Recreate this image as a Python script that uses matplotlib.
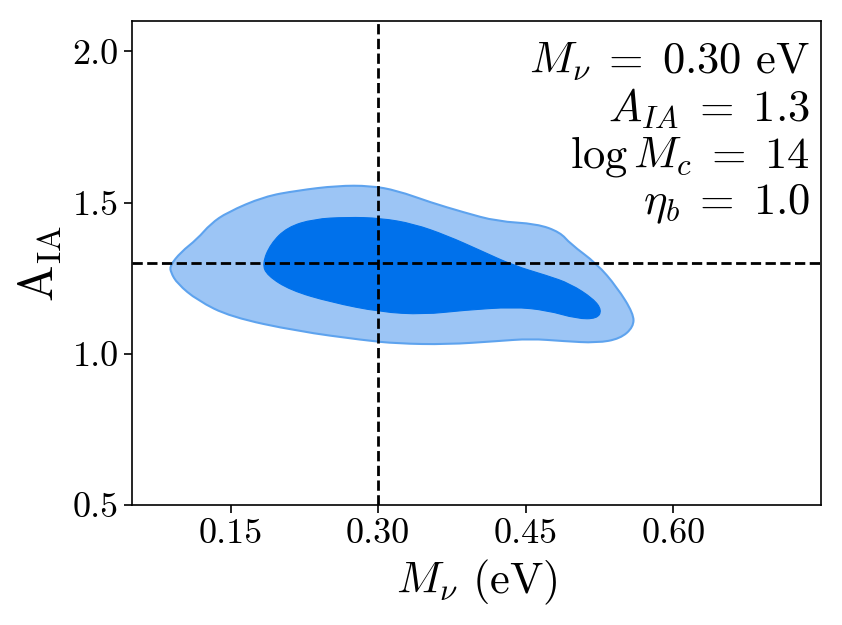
import matplotlib
matplotlib.use("Agg")
import matplotlib.pyplot as plt
import numpy as np
from matplotlib.path import Path
from matplotlib.patches import PathPatch
from matplotlib.ticker import FormatStrFormatter

# %% fonts (Computer Modern look)
plt.rcParams.update({
    "font.family": "serif",
    "font.serif": ["cmr10"],
    "mathtext.fontset": "cm",
    "axes.formatter.use_mathtext": True,
    "axes.unicode_minus": False,
})

# %% data: fiducial values and contour outlines (M_nu [eV], A_IA)
mnu_true = 0.30
aia_true = 1.3

outer_mnu = [0.0885, 0.0993, 0.1162, 0.1297, 0.1466, 0.1839, 0.2177, 0.2583,
             0.2922, 0.3192, 0.3531, 0.3869, 0.4208, 0.4614, 0.4850, 0.4952,
             0.5223, 0.5426, 0.5595, 0.5595, 0.5460, 0.5223, 0.4884, 0.4546,
             0.4208, 0.3700, 0.3192, 0.2854, 0.2177, 0.1500, 0.1162, 0.0959,
             0.0891]
outer_aia = [1.292, 1.336, 1.380, 1.430, 1.468, 1.520, 1.540, 1.556,
             1.556, 1.540, 1.501, 1.468, 1.438, 1.430, 1.402, 1.364,
             1.298, 1.221, 1.133, 1.089, 1.050, 1.036, 1.042, 1.050,
             1.042, 1.031, 1.034, 1.045, 1.075, 1.122, 1.177, 1.232,
             1.270]

inner_mnu = [0.1822, 0.1906, 0.2076, 0.2346, 0.2685, 0.3023, 0.3361, 0.3700,
             0.4038, 0.4377, 0.4715, 0.4952, 0.5189, 0.5273, 0.5223, 0.5020,
             0.4715, 0.4377, 0.3869, 0.3463, 0.3023, 0.2515, 0.2109, 0.1872]
inner_aia = [1.298, 1.364, 1.419, 1.446, 1.452, 1.449, 1.430, 1.391,
             1.342, 1.292, 1.259, 1.232, 1.182, 1.144, 1.116, 1.116,
             1.144, 1.155, 1.144, 1.130, 1.138, 1.171, 1.210, 1.259]

xticks = [0.15, 0.30, 0.45, 0.60]
yticks = [0.5, 1.0, 1.5, 2.0]

label_text = ("$M_\\nu\\;=\\;0.30$ eV\n$A_{IA}\\;=\\;1.3$\n"
              "$\\log M_c\\;=\\;14$\n$\\eta_b\\;=\\;1.0$")


def smooth_outline(xs, ys):
    # closed quadratic B-spline path with the outline points as control points
    p = np.column_stack([xs, ys])
    mid = (p + np.roll(p, -1, axis=0)) / 2
    verts = [mid[-1]]
    codes = [Path.MOVETO]
    for i in range(len(p)):
        verts += [p[i], mid[i]]
        codes += [Path.CURVE3, Path.CURVE3]
    return Path(verts, codes)


# %% plot
fig = plt.figure(figsize=(8.42, 6.25), dpi=100)
ax = fig.add_axes([0.157, 0.192, 0.818, 0.774])

ax.add_patch(PathPatch(smooth_outline(outer_mnu, outer_aia),
                       facecolor="#9cc5f5", edgecolor="#5ea3ee",
                       linewidth=1.5, zorder=1))
ax.add_patch(PathPatch(smooth_outline(inner_mnu, inner_aia),
                       facecolor="#0071eb", edgecolor="#0071eb",
                       linewidth=0.8, zorder=2))

ax.axvline(mnu_true, color="k", ls="--", lw=2, zorder=3)
ax.axhline(aia_true, color="k", ls="--", lw=2, zorder=3)

ax.set_xlim(0.05, 0.75)
ax.set_ylim(0.5, 2.1)
ax.set_xticks(xticks)
ax.set_yticks(yticks)
ax.xaxis.set_major_formatter(FormatStrFormatter("%.2f"))
ax.yaxis.set_major_formatter(FormatStrFormatter("%.1f"))
ax.tick_params(labelsize=26, length=6, width=1.2, direction="out")
for s in ax.spines.values():
    s.set_linewidth(1.2)

ax.set_xlabel(r"$M_\nu$ (eV)", fontsize=32, labelpad=6)
ax.set_ylabel(r"$\mathrm{A_{IA}}$", fontsize=35, labelpad=6)

ax.text(0.984, 0.96, label_text, transform=ax.transAxes, ha="right",
        va="top", fontsize=32, multialignment="right", linespacing=1.1)

fig.savefig("out.png", dpi=100)
